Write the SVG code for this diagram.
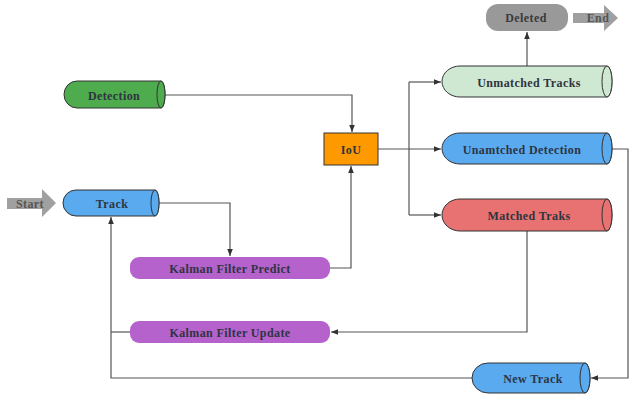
<svg xmlns="http://www.w3.org/2000/svg" width="634" height="396" viewBox="0 0 634 396">
<style>
.t{font-family:"Liberation Serif","Times New Roman",serif;font-weight:bold;font-size:12px;letter-spacing:0.4px;fill:#2e3440;text-anchor:middle;dominant-baseline:central}
.s{stroke:#333;stroke-width:1}
.c{fill:none;stroke:#555;stroke-width:1.2}
</style>
<defs>
<marker id="a" viewBox="0 0 8 8" refX="8" refY="4" markerWidth="7" markerHeight="7" markerUnits="userSpaceOnUse" orient="auto">
<path d="M0,0.8 L8,4 L0,7.2 Z" fill="#333"/>
</marker>
</defs>
<rect width="634" height="396" fill="#fff"/>
<g id="connectors">
<path class="c" d="M165,95 H352 V132" marker-end="url(#a)"/>
<path class="c" d="M378,149 H441" marker-end="url(#a)"/>
<path class="c" d="M409,82 V215"/>
<path class="c" d="M409,82 H441" marker-end="url(#a)"/>
<path class="c" d="M409,215 H441" marker-end="url(#a)"/>
<path class="c" d="M527,66 V32" marker-end="url(#a)"/>
<path class="c" d="M159,203 H230 V256" marker-end="url(#a)"/>
<path class="c" d="M330,268 H351 V166" marker-end="url(#a)"/>
<path class="c" d="M527,231 V332 H331" marker-end="url(#a)"/>
<path class="c" d="M472,378 H111 V217" marker-end="url(#a)"/>
<path class="c" d="M130,332 H111"/>
<path class="c" d="M612,149 H628 V378 H591" marker-end="url(#a)"/>
</g>
<g id="start">
<path d="M7,198 H42 V189 L56,203 L42,217 V209 H7 Z" fill="#a0a0a0"/>
<text class="t" x="30" y="204" style="fill:#555">Start</text>
</g>
<g id="end">
<path d="M573,13 H604 V5 L618,18 L604,31 V23 H573 Z" fill="#a0a0a0"/>
<text class="t" x="598" y="18" style="fill:#555">End</text>
</g>
<g id="detection">
<path class="s" d="M77,81 H161 A4,13.5 0 0 1 161,108 H77 A13,13.5 0 0 1 77,81 Z" fill="#4eab4e"/>
<ellipse class="s" cx="161" cy="94.5" rx="4" ry="13.5" fill="#4eab4e"/>
<text class="t" x="114" y="96">Detection</text>
</g>
<g id="track">
<path class="s" d="M76,190 H155 A4,13 0 0 1 155,216 H76 A13,13 0 0 1 76,190 Z" fill="#5aaaf0"/>
<ellipse class="s" cx="155" cy="203" rx="4" ry="13" fill="#5aaaf0"/>
<text class="t" x="112" y="204">Track</text>
</g>
<g id="iou">
<rect class="s" x="324" y="133" width="54" height="32" fill="#ff9900"/>
<text class="t" x="351" y="150">IoU</text>
</g>
<g id="deleted">
<rect x="486" y="4" width="82" height="27" rx="12" fill="#999"/>
<text class="t" x="526" y="18" style="fill:#3a3a3a">Deleted</text>
</g>
<g id="unmatched-tracks">
<path class="s" d="M460,66 H607 A5,15.5 0 0 1 607,97 H460 A18,15.5 0 0 1 460,66 Z" fill="#cfe8d2"/>
<ellipse class="s" cx="607" cy="81.5" rx="5" ry="15.5" fill="#cfe8d2"/>
<text class="t" x="529" y="83">Unmatched Tracks</text>
</g>
<g id="unmatched-detection">
<path class="s" d="M460,133 H607 A5,15.5 0 0 1 607,164 H460 A18,15.5 0 0 1 460,133 Z" fill="#5aaaf0"/>
<ellipse class="s" cx="607" cy="148.5" rx="5" ry="15.5" fill="#5aaaf0"/>
<text class="t" x="522" y="150">Unamtched Detection</text>
</g>
<g id="matched-traks">
<path class="s" d="M460,199 H607 A5,16 0 0 1 607,231 H460 A18,16 0 0 1 460,199 Z" fill="#e87272"/>
<ellipse class="s" cx="607" cy="215" rx="5" ry="16" fill="#e87272"/>
<text class="t" x="529" y="216">Matched Traks</text>
</g>
<g id="kalman-predict">
<rect x="130" y="257" width="200" height="22" rx="9" fill="#b662cc"/>
<text class="t" x="230" y="269">Kalman Filter Predict</text>
</g>
<g id="kalman-update">
<rect x="130" y="321" width="200" height="22" rx="9" fill="#b662cc"/>
<text class="t" x="230" y="333">Kalman Filter Update</text>
</g>
<g id="new-track">
<path class="s" d="M488,363 H585 A5,15 0 0 1 585,393 H488 A16,15 0 0 1 488,363 Z" fill="#5aaaf0"/>
<ellipse class="s" cx="585" cy="378" rx="5" ry="15" fill="#5aaaf0"/>
<text class="t" x="533" y="379">New Track</text>
</g>
</svg>
